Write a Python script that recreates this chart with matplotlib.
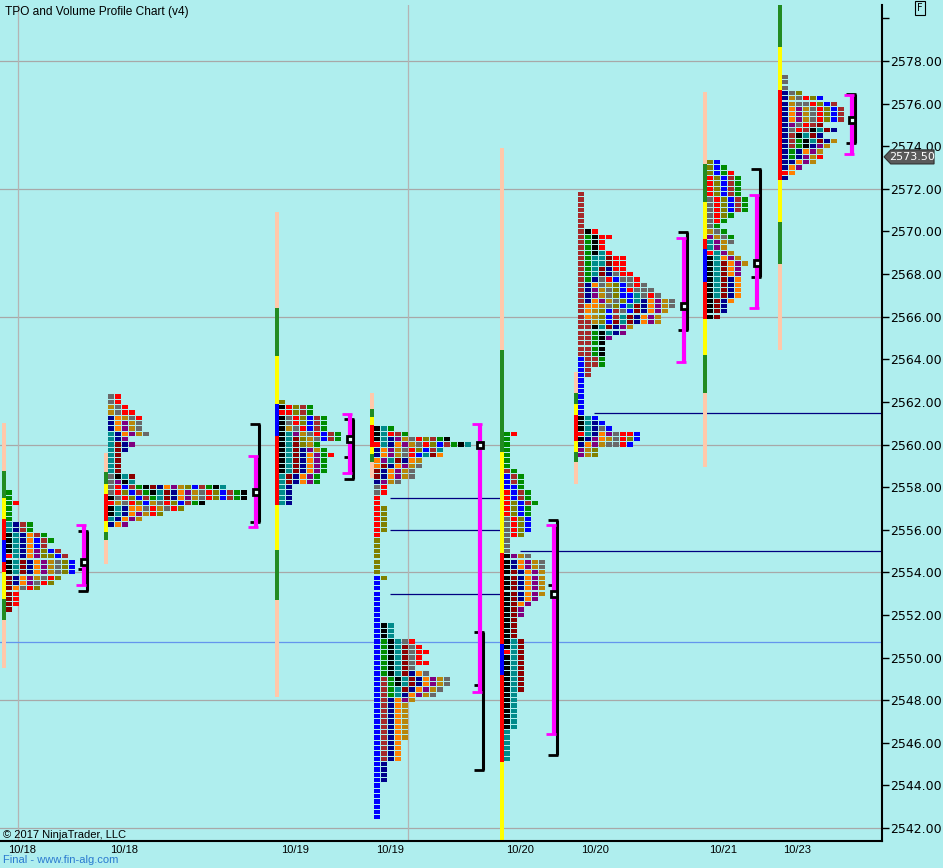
import matplotlib
matplotlib.use('Agg')
import matplotlib.pyplot as plt
from matplotlib.patches import Polygon

# colour of each TPO period letter
tpo_colors = {
    'k': '#000000', 'T': '#008b8b', 'N': '#00008b', 'B': '#0000ff',
    'R': '#ff0000', 'M': '#8b0000', 'b': '#a52a2a', 'G': '#008c00',
    'O': '#ff8000', 'g': '#696969', 'P': '#800080', 'o': '#808000',
    'd': '#b8860b',
}
# colours of the thin session range bars
bar_colors = {'p': '#ffc8aa', 'F': '#228b22', 'Y': '#ffff00',
              'R': '#ff0000', 'B': '#0000ff'}

# ---- data: one block per session profile ----
# top row price, then one string per 0.25 price row (one letter per TPO)
top_1018a = 2557.75
tpo_1018a = ["G", "G", "GR", "G", "G", "G", "TNbG", "TNbG", "kTNObG", "kTNOBbG",
             "kTNOBb", "kTNOPoBb", "RTNOPooBb", "kTMNOPdgoB", "kTMNOPdgoB",
             "kTMNOPdgoB", "MNOPdgRo", "MNOPgRo", "MOgRo", "MR", "MR", "MR", "M"]
bar_1018a = [2561.0, 2558.75, 2557.5, 2556.5, 2555.5, 2554.5, 2554.0, 2552.75, 2551.75, 2549.5]
barc_1018a = "pFYRBRYFp"

top_1018b = 2562.25
tpo_1018b = ["gR", "gR", "dgR", "dgRR", "NOdgR", "NOPdg", "NOPdg", "TNOPdg", "TNP",
             "TMNP", "TMN", "TM", "TM", "TM", "TM", "gkTM", "gPkT",
             "gRBbGkMNOPdoBbGkT", "gRoBbGkTMNOPdgRoBbGk", "kgRoBbGTMNOPdgRoBbGk",
             "RdgRoBdgRoBbGk", "kTNOOgRdgRo", "kTNOPdRo", "TNOPd", "NOP"]
bar_1018b = [2559.6, 2558.7, 2558.15, 2557.7, 2556.4, 2555.9, 2555.5, 2554.4]
barc_1018b = "pFYRYFp"

top_1019a = 2562.0
tpo_1019a = ["o", "kRobG", "RRobG", "kgRoBbG", "kgRoBbG", "kdgRBbG", "kTPdgRBbG",
             "kTModgBbG", "kTModG", "kTMNPdG", "kTMNOPGR", "kTMNOPG", "kTMNOPG",
             "kTMNOPG", "TMNOPG", "TMNOPG", "TN", "TN", "TN", "TN"]
bar_1019a = [2570.9, 2566.4, 2564.15, 2561.9, 2560.4, 2557.15, 2555.05, 2552.7, 2548.15]
barc_1019a = "pFYBRYFp"

top_1019b = 2560.75
tpo_1019b = ["kTG", "kTRbG", "kTNPdgRobGk", "RTNOPdgRoBbGkT", "NOPdgRoBbT",
             "NOPdgRBTMO", "OPTMNOd", "OMNOPdg", "MNOPdg", "MNOPdg", "NPdg", "gR",
             "gR", "R", "R", "Ro", "Ro", "Ro",
             "Ro", "Ro", "R", "o", "o", "o", "o", "o", "o", "o", "Bo", "B", "B",
             "B", "B", "B", "B", "B", "B",
             "BkT", "BkT", "BkT", "BGkTgR", "BGkTMgR", "BGkTMgRR", "BGkTMgR",
             "BGkTMgRR", "BGkTMg", "BGkTMNOg", "BbGkTMNOPdg", "BbGkTMNOPdg",
             "BbGTMNOPdg", "BbGTNOPdg", "BbNOPd", "BbNOd", "BbNOd", "BbNOd",
             "BbNOd", "BbNOd", "BbNOd", "BbNOd", "BbNO", "BbNO", "BbNO", "BbNO",
             "BN", "BN", "BN", "BN", "B", "B", "B", "B", "B", "B", "B"]
bar_1019b = [2562.4, 2561.65, 2561.3, 2560.9, 2559.9, 2559.55, 2559.2, 2558.45]
barc_1019b = "pFYRYFp"

top_1020a = 2560.5
tpo_1020a = ["GR", "G", "G", "G", "G", "G", "G", "bG", "BbG", "BbG", "BBG", "RBbG",
             "RBbG", "RoBbG", "RoBG", "RoBG", "gRoB", "gRoB", "gRoB", "gRo", "g",
             "g", "g", "kPdg", "kNOPdg", "kNOPdg", "kMNOPd", "kMNOPd", "kMNOPd",
             "kMNOPd", "kMNOPd", "kMNOP", "kMOP", "kMP", "kMP", "kM", "kM", "kM",
             "kM", "kTM", "kTM", "RTM", "kTM", "kTM", "kTM", "kTM", "kTM", "kTM",
             "kTM", "kT", "kT", "kT", "kT", "kT", "kT", "kT", "T", "T", "T", "T",
             "T", "T"]
bar_1020a = [2573.9, 2564.45, 2559.65, 2554.9, 2550.65, 2549.2, 2545.1, 2541.4]
barc_1020a = "pFYRBRY"

top_1020b = 2571.75
tpo_1020b = ["b", "b", "b", "b", "b", "b", "b", "bkR", "bGkRR", "bGkR", "bGkR",
             "bGkTR", "bGTTMRR", "bGTTMRR", "bGTMNRR", "bGTMNgRR", "bGNgRBggR",
             "bNOgdoBgRg", "bNPdgoBRggg", "bNPdgoBBTgRg", "bNOPdgoBTNOPdg",
             "bOOdgoBTMNOPdg", "bOdoBbgBMNOPd", "bOdoBbTMNOPd", "bbdoBMTMNOPd",
             "bbkTMNPd", "bbGkTNP", "bbGkP", "bbGk", "bbGk", "bbGk", "BbbG", "BbbG",
             "Bb", "Bb", "B", "B", "B", "B", "B", "B", "B",
             "kTB", "kTNB", "kTNgB", "RTNOPgRRB", "kNPOdgRoB", "NOPdggRB", "Pdo", "Pdo"]
bar_1020b = [2563.4, 2562.4, 2561.9, 2561.4, 2560.15, 2559.65, 2559.2, 2558.15]
barc_1020b = "pFYRYFp"

top_1021 = 2573.25
tpo_1021 = ["oB", "oBG", "oBGR", "RoBbG", "RoBbG", "RoBbG", "RoBbG", "gRoBbG", "gRoBbG",
            "gRoBbG", "gRoG", "gRG", "gG", "dgG", "PdgG", "TPdg", "TPd", "RTPd",
            "kTOPd", "kTMOPd", "kTMOP", "kTMOP", "kTMNO", "kTMNO", "kTMNO", "kTMNO",
            "kMNO", "kMN", "kMN", "kM"]
bar_1021 = [2576.55, 2573.15, 2571.4, 2569.65, 2569.2, 2567.65, 2565.9, 2564.2, 2562.4, 2558.95]
barc_1021 = "pFYRBRYFp"

top_1023 = 2577.25
tpo_1023 = ["g", "g", "g", "Ngo", "NdgRoB", "NdggRoBb", "NOPdgRoBb", "NOPdgRoBb",
            "NOPdgRoBb", "NPgRbM", "NgRbkTMN", "NbkTMN", "NbGkTMNd", "NbGkNPd",
            "NGNOPd", "NGNPdR", "NNOPd", "NOP", "RO", "N"]
bar_1023 = [2580.7, 2578.65, 2576.65, 2572.4, 2570.45, 2568.45, 2564.45]
barc_1023 = "FYRYFp"

# value area (magenta), initial range (black), extra tick, point of control
va_top = [2556.22, 2559.46, 2561.43, 2560.96, 2556.22, 2569.68, 2571.71, 2576.42]
va_bot = [2553.41, 2556.14, 2558.66, 2548.40, 2546.41, 2563.89, 2566.41, 2573.63]
ib_top = [2555.94, 2560.96, 2561.20, 2551.20, 2556.46, 2569.96, 2572.93, 2576.45]
ib_bot = [2553.12, 2556.36, 2558.38, 2544.72, 2545.43, 2565.37, 2567.88, 2574.14]
ib_tick = [2554.16, None, 2559.41, 2548.71, 2553.42, None, None, None]
poc = [2554.5, 2557.75, 2560.25, 2560.0, 2553.0, 2566.5, 2568.5, 2575.25]

# naked POC lines: price, start, end (end None = right edge)
naked = [(2561.5, 594, None), (2555.0, 520, None),
         (2557.5, 390, 503), (2556.0, 390, 503), (2553.0, 390, 503)]
grid_prices = [2578, 2572, 2566, 2560, 2554, 2548, 2542]
blue_line = 2550.75
last_price = 2573.50

date_labels = ["10/18", "10/18", "10/19", "10/19", "10/20", "10/20", "10/21", "10/23"]

# ---- layout (chart x units = pixels of the price panel) ----
tops = [top_1018a, top_1018b, top_1019a, top_1019b, top_1020a, top_1020b, top_1021, top_1023]
tpos = [tpo_1018a, tpo_1018b, tpo_1019a, tpo_1019b, tpo_1020a, tpo_1020b, tpo_1021, tpo_1023]
bars = [bar_1018a, bar_1018b, bar_1019a, bar_1019b, bar_1020a, bar_1020b, bar_1021, bar_1023]
barcs = [barc_1018a, barc_1018b, barc_1019a, barc_1019b, barc_1020a, barc_1020b, barc_1021, barc_1023]
col0_x = [6, 108, 279, 374, 504, 578, 707, 782]
va_x = [84, 256, 350, 480, 554, 684, 757, 852]
label_x = [22, 124, 295, 390, 520, 595, 723, 797]
col_step = 7
col_w = 6
row_step = 0.25
row_h = 0.2

bg = '#afeeee'
fig = plt.figure(figsize=(9.43, 8.68), dpi=100)
fig.patch.set_facecolor(bg)
ax = fig.add_axes([0, 27 / 868, 882 / 943, 836 / 868])
ax.set_facecolor(bg)
ax.set_xlim(0, 882)
ax.set_ylim(2541.39, 2580.63)

for s in ['left', 'top']:
    ax.spines[s].set_visible(False)
for s in ['right', 'bottom']:
    ax.spines[s].set_linewidth(1.5)

# grid lines
for p in grid_prices:
    ax.axhline(p, color='#a8a8a8', lw=0.9, zorder=0)
for x in [18, 408]:
    ax.axvline(x, color='#b4b4b4', lw=0.9, zorder=0)
ax.axhline(blue_line, color='#6495ed', lw=0.9, zorder=0)
for p, x0, x1 in naked:
    ax.hlines(p, x0, 882 if x1 is None else x1, color='#000080', lw=0.9, zorder=1)

# session range bars
for x0, edges, cols in zip(col0_x, bars, barcs):
    hs = [edges[i] - edges[i + 1] for i in range(len(cols))]
    ax.bar([x0 - 4] * len(cols), hs, width=4, bottom=edges[1:],
           align='edge', color=[bar_colors[c] for c in cols], zorder=2)

# TPO squares
for x0, top, rows in zip(col0_x, tops, tpos):
    xs, ys, cs = [], [], []
    for i, row in enumerate(rows):
        for j, c in enumerate(row):
            xs.append(x0 + j * col_step)
            ys.append(top - i * row_step - row_h / 2)
            cs.append(tpo_colors[c])
    ax.bar(xs, [row_h] * len(xs), width=col_w, bottom=ys, align='edge',
           color=cs, zorder=3)

# brackets and POC boxes
for i in range(len(va_x)):
    xm = va_x[i]
    xk = xm + 3
    ax.plot([xk, xk], [ib_top[i], ib_bot[i]], color='black', lw=2.2,
            solid_capstyle='butt', zorder=4)
    for p in [ib_top[i], ib_bot[i]]:
        ax.plot([xk - 9, xk + 1], [p, p], color='black', lw=2, solid_capstyle='butt', zorder=4)
    if ib_tick[i] is not None:
        ax.plot([xk - 9, xk], [ib_tick[i]] * 2, color='black', lw=2,
                solid_capstyle='butt', zorder=4)
    ax.plot([xm, xm], [va_top[i], va_bot[i]], color='#ff00ff', lw=3,
            solid_capstyle='butt', zorder=5)
    for p in [va_top[i], va_bot[i]]:
        ax.plot([xm - 8, xm + 2], [p, p], color='#ff00ff', lw=2, solid_capstyle='butt', zorder=5)
    ax.plot([xm], [poc[i]], marker='s', ms=5, mfc='#e8ffff', mec='black', mew=2, zorder=6)

# axes ticks
ax.yaxis.tick_right()
yt = list(range(2542, 2581, 2))
ax.set_yticks(yt)
ax.set_yticklabels(['%.2f' % v if v < 2580 else '' for v in yt],
                   fontfamily='DejaVu Sans', fontsize=9)
ax.tick_params(axis='y', direction='out', length=5, width=1, pad=0.5)
ax.set_xticks(label_x)
ax.set_xticklabels(date_labels, fontfamily='Liberation Sans', fontsize=8)
ax.tick_params(axis='x', length=0, pad=3)

# last price marker
tr = ax.get_yaxis_transform()
poly = Polygon([(1.0023, last_price), (1.0099, last_price + 0.33), (1.0590, last_price + 0.33),
                (1.0590, last_price - 0.33), (1.0099, last_price - 0.33)], closed=True,
               transform=tr, clip_on=False, fc='#5a5a5a', ec='#303030', lw=0.8, zorder=10)
ax.add_patch(poly)
ax.text(1.0345, last_price, '%.2f' % last_price, transform=tr, color='white',
        fontfamily='DejaVu Sans', fontsize=8, ha='center', va='center', zorder=11,
        clip_on=False)

# texts
fig.text(5 / 943, 1 - 12 / 868, 'TPO and Volume Profile Chart (v4)', fontfamily='Liberation Sans',
         fontsize=8.6, va='center', ha='left')
fig.text(3 / 943, 1 - 835 / 868, '\u00a9 2017 NinjaTrader, LLC', fontfamily='Liberation Sans',
         fontsize=8, va='center', ha='left')
fig.text(3 / 943, 1 - 860 / 868, 'Final - www.fin-alg.com', fontfamily='Liberation Sans',
         fontsize=8, va='center', ha='left', color='#2a7ad0')
fig.text(920 / 943, 1 - 8 / 868, 'F', fontfamily='DejaVu Sans', fontsize=7, ha='center',
         va='center', bbox=dict(boxstyle='square,pad=0.25', fc='none', ec='black', lw=0.8))

fig.savefig('out.png', dpi=100, facecolor=bg)
